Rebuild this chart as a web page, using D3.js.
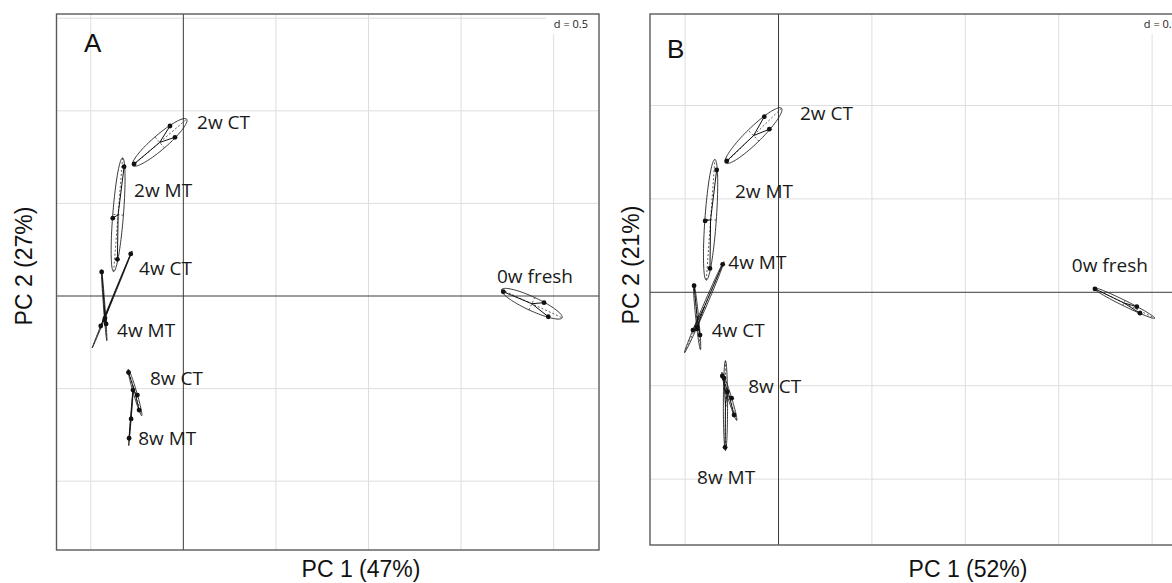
<!DOCTYPE html>
<html><head><meta charset="utf-8">
<script src="https://cdn.jsdelivr.net/npm/d3@7"></script>
<style>body{margin:0;background:#fff} svg{display:block}</style>
</head><body>
<svg id="chart" width="1172" height="583"></svg>
<script>
// Group names, in plotting order
const groupsA = ["2w CT", "2w MT", "4w CT", "4w MT", "8w CT", "8w MT", "0w fresh"];
const groupsB = ["2w CT", "2w MT", "4w MT", "4w CT", "8w CT", "8w MT", "0w fresh"];

// Panel A: PCA scores of the replicates (PC1, PC2), one row per group
const pc1A = [
  [-0.072, -0.045, -0.266],
  [-0.320, -0.381, -0.356],
  [-0.284, -0.423, -0.446],
  [-0.441, -0.425, -0.417],
  [-0.296, -0.248, -0.239],
  [-0.272, -0.282, -0.293],
  [1.728, 1.948, 1.971]
];
const pc2A = [
  [0.918, 0.857, 0.713],
  [0.698, 0.420, 0.198],
  [0.227, -0.119, -0.162],
  [0.130, -0.130, -0.151],
  [-0.413, -0.535, -0.616],
  [-0.508, -0.664, -0.768],
  [0.023, -0.036, -0.112]
];
// Panel A: where each group name sits (PC1, PC2)
const labelA = [[0.074, 0.939], [-0.266, 0.572], [-0.239, 0.151], [-0.358, -0.184],
                [-0.180, -0.443], [-0.244, -0.769], [1.694, 0.108]];

// Panel B: PCA scores of the replicates (PC1, PC2)
const pc1B = [
  [-0.076, -0.049, -0.277],
  [-0.331, -0.393, -0.367],
  [-0.299, -0.436, -0.458],
  [-0.452, -0.420, -0.436],
  [-0.301, -0.251, -0.238],
  [-0.292, -0.274, -0.286],
  [1.694, 1.918, 1.935]
];
const pc2B = [
  [0.940, 0.873, 0.703],
  [0.655, 0.382, 0.128],
  [0.150, -0.186, -0.202],
  [0.035, -0.229, -0.196],
  [-0.448, -0.567, -0.657],
  [-0.459, -0.532, -0.830],
  [0.018, -0.077, -0.112]
];
const labelB = [[0.115, 0.958], [-0.233, 0.539], [-0.269, 0.164], [-0.358, -0.202],
                [-0.162, -0.505], [-0.436, -0.989], [1.570, 0.146]];

// Axis titles and panel tags
const panelTags = ["A", "B"];
const xTitles = ["PC 1 (47%)", "PC 1 (52%)"];
const yTitles = ["PC 2 (27%)", "PC 2 (21%)"];
const gridStep = 0.5;
const gridLegend = "d = 0.5";

const svg = d3.select("#chart");

// Inertia ellipse of a cloud of points (ade4 s.class style, cellipse = 1.5)
function inertiaEllipse(xs, ys, c) {
  const n = xs.length;
  const mx = d3.mean(xs), my = d3.mean(ys);
  let vx = 0, vy = 0, cxy = 0;
  for (let i = 0; i < n; i++) {
    vx += (xs[i] - mx) ** 2 / n;
    vy += (ys[i] - my) ** 2 / n;
    cxy += (xs[i] - mx) * (ys[i] - my) / n;
  }
  const delta = Math.sqrt((vx - vy) ** 2 + 4 * cxy * cxy);
  const l1 = (vx + vy + delta) / 2;
  const l2 = Math.max(vx + vy - l1, 0);
  const th = 0.5 * Math.atan2(2 * cxy, vx - vy);
  const a = c * Math.sqrt(l1), b = c * Math.sqrt(l2);
  const ct = Math.cos(th), st = Math.sin(th);
  const outline = d3.range(0, 101).map(k => {
    const t = k / 100 * 2 * Math.PI;
    return [mx + a * Math.cos(t) * ct - b * Math.sin(t) * st,
            my + a * Math.cos(t) * st + b * Math.sin(t) * ct];
  });
  const major = [[mx - a * ct, my - a * st], [mx + a * ct, my + a * st]];
  const minor = [[mx + b * st, my - b * ct], [mx - b * st, my + b * ct]];
  return { mx, my, outline, major, minor };
}

function drawPanel(p) {
  const x = d3.scaleLinear().domain(p.xDom).range([p.left, p.right]);
  const y = d3.scaleLinear().domain(p.yDom).range([p.bottom, p.top]);
  const g = svg.append("g");
  const clipId = "clip" + p.tag;
  svg.append("clipPath").attr("id", clipId).append("rect")
    .attr("x", p.left).attr("y", p.top)
    .attr("width", p.right - p.left).attr("height", p.bottom - p.top);
  const inner = g.append("g").attr("clip-path", `url(#${clipId})`);

  // grid
  const gx = d3.range(Math.ceil(p.xDom[0] / gridStep), Math.floor(p.xDom[1] / gridStep) + 1)
    .map(k => k * gridStep).filter(v => v !== 0);
  const gy = d3.range(Math.ceil(p.yDom[0] / gridStep), Math.floor(p.yDom[1] / gridStep) + 1)
    .map(k => k * gridStep).filter(v => v !== 0);
  inner.selectAll(".gx").data(gx).join("line")
    .attr("x1", d => x(d)).attr("x2", d => x(d))
    .attr("y1", p.top).attr("y2", p.bottom)
    .attr("stroke", "#dedede").attr("stroke-width", 1);
  inner.selectAll(".gy").data(gy).join("line")
    .attr("y1", d => y(d)).attr("y2", d => y(d))
    .attr("x1", p.left).attr("x2", p.right)
    .attr("stroke", "#dedede").attr("stroke-width", 1);
  // origin axes
  inner.append("line").attr("x1", x(0)).attr("x2", x(0)).attr("y1", p.top).attr("y2", p.bottom)
    .attr("stroke", "#3a3a3a").attr("stroke-width", 1);
  inner.append("line").attr("y1", y(0)).attr("y2", y(0)).attr("x1", p.left).attr("x2", p.right)
    .attr("stroke", "#3a3a3a").attr("stroke-width", 1);

  // grid size legend in the top-right corner
  inner.append("rect").attr("x", p.right - 53).attr("y", p.top).attr("width", 53).attr("height", 20)
    .attr("fill", "#fff");
  inner.append("text").attr("x", p.right - 11).attr("y", p.top + 14)
    .attr("text-anchor", "end").attr("font-family", "Open Sans").attr("font-size", 11)
    .attr("fill", "#222").text(gridLegend);

  const line = d3.line().x(d => x(d[0])).y(d => y(d[1]));

  p.groups.forEach((name, i) => {
    const xs = p.pc1[i], ys = p.pc2[i];
    const e = inertiaEllipse(xs, ys, 1.5);
    inner.append("path").attr("d", line(e.outline)).attr("fill", "none")
      .attr("stroke", "#222").attr("stroke-width", 0.9);
    [e.major, e.minor].forEach(ax => {
      inner.append("path").attr("d", line(ax)).attr("fill", "none")
        .attr("stroke", "#333").attr("stroke-width", 0.8).attr("stroke-dasharray", "2,2");
    });
    xs.forEach((xv, k) => {
      inner.append("line").attr("x1", x(e.mx)).attr("y1", y(e.my))
        .attr("x2", x(xv)).attr("y2", y(ys[k]))
        .attr("stroke", "#111").attr("stroke-width", 1);
    });
    xs.forEach((xv, k) => {
      inner.append("circle").attr("cx", x(xv)).attr("cy", y(ys[k])).attr("r", 2.4)
        .attr("fill", "#111");
    });
    inner.append("text").attr("x", x(p.labels[i][0])).attr("y", y(p.labels[i][1]))
      .attr("dy", "0.36em").attr("font-family", "Open Sans").attr("font-size", 19)
      .attr("fill", "#1a1a1a").text(name);
  });

  // panel tag
  g.append("text").attr("x", p.tagX).attr("y", p.tagY)
    .attr("font-family", "Liberation Sans, Arial").attr("font-size", 26)
    .attr("fill", "#111").text(p.tag);

  // frame
  g.append("rect").attr("x", p.left).attr("y", p.top)
    .attr("width", p.right - p.left).attr("height", p.bottom - p.top)
    .attr("fill", "none").attr("stroke", "#5a5a5a").attr("stroke-width", 1.4);

  // axis titles
  svg.append("text").attr("x", p.xTitleX).attr("y", p.xTitleY).attr("text-anchor", "middle")
    .attr("font-family", "Liberation Sans, Arial").attr("font-size", 23).attr("fill", "#111")
    .text(p.xTitle);
  svg.append("text").attr("transform", `translate(${p.yTitleX},${p.yTitleY}) rotate(-90)`)
    .attr("text-anchor", "middle").attr("dy", "0.36em")
    .attr("font-family", "Liberation Sans, Arial").attr("font-size", 23).attr("fill", "#111")
    .text(p.yTitle);
}

drawPanel({
  tag: panelTags[0], groups: groupsA, pc1: pc1A, pc2: pc2A, labels: labelA,
  xDom: [-0.685, 2.245], yDom: [-1.3715, 1.5227],
  left: 56.5, right: 599, top: 14, bottom: 550,
  tagX: 84, tagY: 52,
  xTitle: xTitles[0], xTitleX: 361, xTitleY: 577,
  yTitle: yTitles[0], yTitleX: 24, yTitleY: 266
});
drawPanel({
  tag: panelTags[1], groups: groupsB, pc1: pc1B, pc2: pc2B, labels: labelB,
  xDom: [-0.688, 2.1975], yDom: [-1.3528, 1.4898],
  left: 650, right: 1189, top: 14, bottom: 545,
  tagX: 667, tagY: 58,
  xTitle: xTitles[1], xTitleX: 968, xTitleY: 577,
  yTitle: yTitles[1], yTitleX: 631, yTitleY: 265
});
</script>
</body></html>
